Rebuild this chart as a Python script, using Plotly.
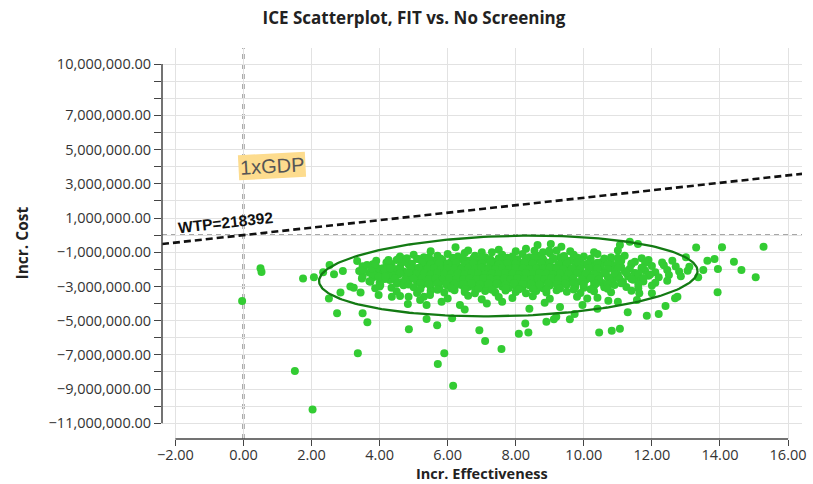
import numpy as np
import plotly.graph_objects as go

# ---------------- data (effectiveness, cost in millions) ----------------
cloud_eff = [
    5.5, 6.6, 7.0, 7.5, 8.0, 8.3, 8.8, 9.2, 9.6, 10.3, 11.0,
    4.6, 5.0, 5.3, 5.7, 6.0, 6.3, 6.5, 6.8, 7.1, 7.3, 7.6, 7.9, 8.2, 8.4, 8.7, 9.0, 9.3, 9.7, 10.0, 10.4, 10.8, 11.2, 11.7,
    3.9, 4.2, 4.5, 4.8, 5.1, 5.35, 5.6, 5.85, 6.1, 6.35, 6.6, 6.85, 7.1, 7.35, 7.6, 7.85, 8.1, 8.35, 8.6, 8.85, 9.1, 9.35, 9.6, 9.9, 10.2, 10.5, 10.8, 11.1, 11.5, 11.9, 12.3, 12.6,
    3.5, 3.8, 4.1, 4.35, 4.6, 4.85, 5.1, 5.3, 5.5, 5.7, 5.9, 6.1, 6.3, 6.5, 6.7, 6.9, 7.1, 7.3, 7.5, 7.7,
    7.9, 8.1, 8.3, 8.5, 8.7, 8.9, 9.1, 9.3, 9.5, 9.75, 10.0, 10.25, 10.5, 10.8, 11.1, 11.4, 11.7, 12.0, 12.35, 12.7,
    3.4, 3.7, 3.95, 4.2, 4.45, 4.7, 4.95, 5.2, 5.4, 5.6, 5.8, 6.0, 6.2, 6.4, 6.6, 6.8, 7.0, 7.2, 7.4, 7.6,
    7.8, 8.0, 8.2, 8.4, 8.6, 8.8, 9.0, 9.2, 9.4, 9.6, 9.85, 10.1, 10.35, 10.6, 10.9, 11.2, 11.5, 11.8, 12.1, 12.45, 12.8, 13.05,
    3.5, 3.8, 4.05, 4.3, 4.55, 4.8, 5.05, 5.3, 5.5, 5.7, 5.9, 6.1, 6.3, 6.5, 6.7, 6.9, 7.1, 7.3, 7.5, 7.7,
    7.9, 8.1, 8.3, 8.5, 8.7, 8.9, 9.1, 9.3, 9.5, 9.7, 9.95, 10.2, 10.45, 10.7, 11.0, 11.3, 11.6, 11.9, 12.2, 12.5, 12.85,
    3.7, 4.0, 4.3, 4.6, 4.85, 5.1, 5.35, 5.55, 5.75, 5.95, 6.15, 6.35, 6.55, 6.75, 6.95, 7.15, 7.35, 7.55, 7.75, 7.95,
    8.15, 8.35, 8.55, 8.75, 8.95, 9.15, 9.35, 9.55, 9.8, 10.05, 10.3, 10.55, 10.85, 11.15, 11.45, 11.75, 12.1, 12.45,
    4.0, 4.35, 4.7, 5.0, 5.25, 5.5, 5.75, 6.0, 6.2, 6.4, 6.6, 6.8, 7.0, 7.2, 7.4, 7.6, 7.8, 8.0, 8.2, 8.4,
    8.6, 8.8, 9.0, 9.25, 9.5, 9.75, 10.0, 10.3, 10.6, 10.9, 11.25, 11.6, 12.0,
    4.5, 5.1, 5.5, 5.9, 6.2, 6.5, 6.8, 7.1, 7.4, 7.7, 8.0, 8.3, 8.6, 8.9, 9.2, 9.5, 9.9, 10.3, 10.8, 11.4,
    5.3, 6.0, 6.6, 7.0, 7.5, 7.9, 8.5, 9.0, 9.8, 10.4,
]
cloud_cost = [
    -0.95, -0.9, -1.0, -0.85, -0.95, -0.8, -1.0, -0.9, -0.95, -1.0, -0.9,
    -1.25, -1.15, -1.3, -1.2, -1.1, -1.25, -1.05, -1.2, -1.3, -1.0, -1.15, -1.25, -1.1, -1.3, -1.2, -1.05, -1.3, -1.15, -1.25, -1.1, -1.3, -1.2, -1.35,
    -1.5, -1.6, -1.45, -1.55, -1.4, -1.6, -1.5, -1.45, -1.55, -1.4, -1.5, -1.6, -1.45, -1.55, -1.5, -1.4, -1.6, -1.5, -1.45, -1.55, -1.4, -1.6, -1.5, -1.45, -1.55, -1.6, -1.4, -1.5, -1.55, -1.45, -1.6, -1.5,
    -1.82, -1.7, -1.93, -1.76, -1.88, -1.72, -1.95, -1.8, -1.74, -1.86, -1.7, -1.9, -1.83, -1.77, -1.87, -1.69, -1.92, -1.81, -1.75, -1.84,
    -1.71, -1.89, -1.8, -1.78, -1.86, -1.7, -1.91, -1.82, -1.76, -1.85, -1.73, -1.9, -1.79, -1.74, -1.88, -1.7, -1.93, -1.8, -1.76, -1.84,
    -2.1, -2.2, -2.05, -2.15, -2.0, -2.12, -2.22, -2.08, -2.18, -2.03, -2.13, -2.2, -2.06, -2.16, -2.01, -2.11, -2.21, -2.07, -2.17, -2.04,
    -2.14, -2.19, -2.05, -2.15, -2.02, -2.12, -2.22, -2.08, -2.18, -2.03, -2.13, -2.2, -2.06, -2.16, -2.01, -2.11, -2.21, -2.07, -2.17, -2.04, -2.12, -2.08,
    -2.4, -2.48, -2.33, -2.45, -2.3, -2.42, -2.5, -2.36, -2.46, -2.32, -2.43, -2.5, -2.35, -2.45, -2.31, -2.41, -2.49, -2.37, -2.47, -2.33,
    -2.44, -2.5, -2.34, -2.46, -2.3, -2.42, -2.48, -2.36, -2.45, -2.32, -2.43, -2.5, -2.35, -2.44, -2.31, -2.41, -2.49, -2.37, -2.46, -2.33, -2.4,
    -2.7, -2.78, -2.63, -2.75, -2.6, -2.72, -2.8, -2.66, -2.76, -2.62, -2.73, -2.8, -2.65, -2.75, -2.61, -2.71, -2.79, -2.67, -2.77, -2.63,
    -2.74, -2.8, -2.64, -2.76, -2.6, -2.72, -2.78, -2.66, -2.75, -2.62, -2.73, -2.8, -2.65, -2.74, -2.61, -2.71, -2.79, -2.67,
    -3.0, -3.08, -2.93, -3.05, -2.9, -3.02, -3.1, -2.96, -3.06, -2.92, -3.03, -3.1, -2.95, -3.05, -2.91, -3.01, -3.09, -2.97, -3.07, -2.93,
    -3.04, -3.1, -2.94, -3.06, -2.9, -3.02, -3.08, -2.96, -3.05, -2.92, -3.03, -3.1, -2.95,
    -3.3, -3.38, -3.25, -3.35, -3.22, -3.32, -3.4, -3.27, -3.36, -3.24, -3.33, -3.4, -3.26, -3.35, -3.23, -3.31, -3.39, -3.28, -3.34, -3.25,
    -3.6, -3.7, -3.55, -3.75, -3.62, -3.68, -3.58, -3.72, -3.6, -3.66,
]

# denser core of the cloud (in-between rows)
core_eff = [
    4.8, 5.15, 5.45, 5.8, 6.15, 6.45, 6.75, 7.0, 7.25, 7.5, 7.75, 8.05, 8.3, 8.55, 8.8, 9.1, 9.45, 9.8, 10.2, 10.6, 11.0,
    4.3, 4.65, 4.95, 5.25, 5.5, 5.75, 6.0, 6.25, 6.5, 6.75, 7.0, 7.25, 7.5, 7.75, 8.0, 8.25, 8.5, 8.75, 9.0, 9.25, 9.5, 9.8, 10.1, 10.4, 10.7, 11.0, 11.4, 11.8,
    4.0, 4.3, 4.6, 4.9, 5.15, 5.4, 5.6, 5.8, 6.0, 6.2, 6.4, 6.6, 6.8, 7.0, 7.2, 7.4, 7.6, 7.8, 8.0, 8.2, 8.4, 8.6, 8.8, 9.0, 9.2, 9.4, 9.65, 9.9, 10.15, 10.4, 10.7, 11.0, 11.35, 11.7,
    3.8, 4.1, 4.35, 4.6, 4.85, 5.1, 5.3, 5.5, 5.7, 5.9, 6.1, 6.3, 6.5, 6.7, 6.9, 7.1, 7.3, 7.5, 7.7, 7.9, 8.1, 8.3, 8.5, 8.7, 8.9, 9.1, 9.3, 9.55, 9.8, 10.05, 10.3, 10.6, 10.9, 11.25, 11.6, 11.95,
    4.15, 4.45, 4.75, 5.0, 5.25, 5.45, 5.65, 5.85, 6.05, 6.25, 6.45, 6.65, 6.85, 7.05, 7.25, 7.45, 7.65, 7.85, 8.05, 8.25, 8.45, 8.65, 8.85, 9.05, 9.25, 9.45, 9.7, 9.95, 10.2, 10.45, 10.75, 11.05, 11.4, 11.75,
    4.5, 4.85, 5.2, 5.45, 5.7, 5.95, 6.2, 6.45, 6.7, 6.95, 7.2, 7.45, 7.7, 7.95, 8.2, 8.45, 8.7, 8.95, 9.2, 9.45, 9.7, 10.0, 10.35, 10.7, 11.1, 11.6,
    5.2, 5.7, 6.1, 6.5, 6.9, 7.3, 7.7, 8.1, 8.5, 8.9, 9.3, 9.7, 10.2, 10.7,
]
core_cost = [
    -1.35, -1.4, -1.3, -1.38, -1.33, -1.42, -1.36, -1.3, -1.4, -1.35, -1.32, -1.41, -1.37, -1.3, -1.39, -1.34, -1.42, -1.31, -1.38, -1.36, -1.33,
    -1.65, -1.62, -1.68, -1.6, -1.7, -1.63, -1.67, -1.61, -1.69, -1.64, -1.66, -1.6, -1.7, -1.63, -1.67, -1.62, -1.68, -1.64, -1.6, -1.69, -1.65, -1.62, -1.68, -1.61, -1.7, -1.64, -1.66, -1.63,
    -1.97, -1.93, -2.0, -1.95, -1.91, -1.98, -1.94, -2.0, -1.92, -1.96, -1.99, -1.93, -1.97, -1.91, -1.95, -2.0, -1.94, -1.98, -1.92, -1.96, -1.99, -1.93, -1.97, -1.91, -1.95, -2.0, -1.94, -1.98, -1.92, -1.96, -1.99, -1.93, -1.97, -1.91,
    -2.27, -2.23, -2.3, -2.25, -2.21, -2.28, -2.24, -2.3, -2.22, -2.26, -2.29, -2.23, -2.27, -2.21, -2.25, -2.3, -2.24, -2.28, -2.22, -2.26, -2.29, -2.23, -2.27, -2.21, -2.25, -2.3, -2.24, -2.28, -2.22, -2.26, -2.29, -2.23, -2.27, -2.21, -2.25, -2.3,
    -2.57, -2.53, -2.6, -2.55, -2.51, -2.58, -2.54, -2.6, -2.52, -2.56, -2.59, -2.53, -2.57, -2.51, -2.55, -2.6, -2.54, -2.58, -2.52, -2.56, -2.59, -2.53, -2.57, -2.51, -2.55, -2.6, -2.54, -2.58, -2.52, -2.56, -2.59, -2.53, -2.57, -2.51,
    -2.85, -2.88, -2.82, -2.87, -2.83, -2.89, -2.84, -2.86, -2.81, -2.88, -2.85, -2.83, -2.89, -2.82, -2.86, -2.84, -2.88, -2.81, -2.87, -2.85, -2.83, -2.89, -2.84, -2.86, -2.82, -2.88,
    -3.15, -3.2, -3.12, -3.18, -3.14, -3.2, -3.13, -3.17, -3.15, -3.19, -3.12, -3.18, -3.16, -3.14,
]

fringe_eff = [
    -0.04, 0.50, 0.53, 1.75, 2.07, 2.34, 2.53, 2.66, 2.92, 2.51,
    2.85, 3.14, 3.24, 3.44, 3.34, 3.48, 3.53, 3.63, 3.78, 3.87,
    3.97, 3.73, 3.87, 3.97, 4.02, 4.26, 4.55, 4.15, 4.31, 4.17,
    4.36, 4.60, 4.85, 4.83, 5.38, 5.82, 5.48, 2.75, 3.50, 3.64,
    4.86, 5.38, 5.69, 5.90, 5.71, 6.16, 6.13, 6.93, 7.10, 1.51,
    2.03, 3.36, 7.58, 8.09, 8.37, 8.28, 8.90, 9.12, 9.19, 9.59,
    9.73, 9.96, 10.45, 10.82, 11.06, 11.29, 11.85, 12.20, 12.40, 12.68,
    12.75, 11.63, 10.72, 11.56, 13.30, 14.06, 15.28, 13.63, 13.84, 14.41,
    13.94, 14.63, 13.51, 13.36, 15.05, 13.93, 13.10, 13.00, 11.06, 11.35,
    11.59, 6.23, 8.64, 9.03, 9.34, 8.98, 8.55, 9.42, 6.36, 6.50,
    7.15, 7.60, 8.40, 8.85, 9.30, 10.10, 10.40, 11.00, 5.19, 12.00,
]
fringe_cost = [
    -3.85, -1.93, -2.16, -2.53, -2.47, -2.17, -1.75, -2.29, -2.10, -3.70,
    -3.36, -3.00, -3.07, -3.35, -1.51, -2.53, -2.04, -1.75, -1.94, -1.71,
    -2.43, -2.72, -3.11, -3.50, -2.92, -1.46, -1.40, -2.04, -1.94, -2.43,
    -3.60, -3.56, -3.60, -4.03, -4.09, -3.89, -3.50, -4.57, -4.57, -5.10,
    -5.50, -4.90, -5.27, -6.90, -7.53, -8.80, -4.86, -5.56, -6.19, -7.95,
    -10.20, -6.90, -6.66, -5.76, -5.70, -5.16, -5.06, -4.92, -4.77, -4.92,
    -4.61, -4.09, -5.70, -5.59, -5.47, -4.51, -4.71, -4.61, -4.14, -3.69,
    -3.60, -3.40, -3.83, -3.79, -0.73, -0.71, -0.68, -1.50, -1.40, -1.55,
    -1.98, -2.04, -2.04, -2.47, -2.47, -3.34, -1.85, -1.30, -0.58, -0.39,
    -0.52, -0.71, -0.58, -0.52, -0.68, -0.91, -0.91, -1.22, -4.09, -4.35,
    -4.00, -3.90, -4.30, -3.95, -4.20, -3.70, -4.30, -3.90, -3.79, -3.40,
]

wtp = 218392
gdp_label = "1xGDP"

# axis configuration
x_tick_values = [-2, 0, 2, 4, 6, 8, 10, 12, 14, 16]
y_label_values = [-11e6, -9e6, -7e6, -5e6, -3e6, -1e6, 1e6, 3e6, 5e6, 7e6, 10e6]
y_min_tick, y_max_tick, y_step = -11e6, 10e6, 1e6
x_range = [-2.394, 16.41]
y_range = [-11.92e6, 10.94e6]

# confidence ellipse parameters
ell_cx, ell_cy = 7.78, -2.39e6
ell_a, ell_b = 5.56, 2.34e6
ell_shear = 0.0526e6

# ---------------- figure ----------------
eff = cloud_eff + core_eff + fringe_eff
cost = [c * 1e6 for c in cloud_cost + core_cost + fringe_cost]

fig = go.Figure()
fig.add_trace(go.Scatter(
    x=eff, y=cost, mode="markers",
    marker=dict(color="#33cc33", size=8, line=dict(width=0)),
    hoverinfo="skip",
))

t = np.linspace(0, 2 * np.pi, 241)
ex = ell_cx + ell_a * np.cos(t)
ey = ell_cy + ell_shear * (ell_a * np.cos(t)) + ell_b * np.sin(t)
fig.add_trace(go.Scatter(x=ex, y=ey, mode="lines",
                         line=dict(color="#137a13", width=2.3), hoverinfo="skip"))

wx = np.array(x_range)
fig.add_trace(go.Scatter(x=wx, y=wtp * wx, mode="lines",
                         line=dict(color="#111111", width=2.6, dash="7px,4px"),
                         hoverinfo="skip"))

y_grid_vals = list(np.arange(y_min_tick, y_max_tick + y_step / 2, y_step))
y_text = []
for v in y_grid_vals:
    if any(abs(v - lv) < 1 for lv in y_label_values):
        y_text.append(f"{v:,.2f}".replace("-", "\u2212"))
    else:
        y_text.append("")

font_family = "Open Sans"
grid_col = "#e2e2e2"
axis_col = "#444444"

fig.update_layout(
    width=813, height=484,
    margin=dict(l=162, r=7, t=48, b=45),
    paper_bgcolor="white", plot_bgcolor="white",
    showlegend=False,
    font=dict(family=font_family, color="#333333", size=14.5),
    title=dict(text="<b>ICE Scatterplot, FIT vs. No Screening</b>",
               x=414 / 813, xanchor="center", xref="container",
               y=1 - 18 / 484, yanchor="middle", yref="container",
               font=dict(size=17, color="#222222", family=font_family)),
    xaxis=dict(range=x_range, tickmode="array", tickvals=x_tick_values,
               tickformat=".2f", ticks="outside", ticklen=6, tickwidth=1.3,
               ticklabelstandoff=-3,
               tickcolor=axis_col, showgrid=True, gridcolor=grid_col, gridwidth=1,
               zeroline=False, showline=False, fixedrange=True,
               tickfont=dict(size=14.5, color="#333333")),
    yaxis=dict(range=y_range, tickmode="array", tickvals=y_grid_vals, ticktext=y_text,
               ticks="outside", ticklen=7, tickwidth=1.3, tickcolor=axis_col,
               showgrid=True, gridcolor=grid_col, gridwidth=1,
               zeroline=False, showline=False, fixedrange=True,
               tickfont=dict(size=14.5, color="#333333")),
)

shapes = [
    dict(type="line", xref="x", yref="paper", x0=x_tick_values[0], x1=x_tick_values[-1],
         y0=0, y1=0, line=dict(color=axis_col, width=1.5)),
    dict(type="line", xref="paper", yref="y", x0=0, x1=0, y0=y_min_tick, y1=y_max_tick,
         line=dict(color=axis_col, width=1.5)),
    dict(type="line", xref="x", yref="paper", x0=0, x1=0, y0=0, y1=1, layer="between",
         line=dict(color="#3a3a3a", width=1.8, dash="5px,5px")),
    dict(type="line", xref="paper", yref="y", x0=0, x1=1, y0=0, y1=0, layer="between",
         line=dict(color="#8a8a8a", width=1.7, dash="5px,4px")),
]
fig.update_layout(shapes=shapes)

fig.add_annotation(x=-0.53, y=0.71e6, xref="x", yref="y", text=f"<b>WTP={wtp}</b>",
                   showarrow=False, textangle=-6.3,
                   font=dict(family="Liberation Sans", size=15.5, color="#111111"))
fig.add_annotation(x=0.85, y=4.04e6, xref="x", yref="y", text=gdp_label,
                   showarrow=False, textangle=-3, bgcolor="#fddc8e", borderpad=1,
                   font=dict(family="Liberation Sans", size=20, color="#555555"))
fig.add_annotation(x=0.5, y=0, xref="paper", yref="paper", yshift=-46,
                   text="<b>Incr. Effectiveness</b>", showarrow=False,
                   xanchor="center", yanchor="bottom",
                   font=dict(family=font_family, size=14.5, color="#222222"))
fig.add_annotation(x=0, y=0.5, xref="paper", yref="paper", xshift=-141,
                   text="<b>Incr. Cost</b>", showarrow=False, textangle=-90,
                   xanchor="center", yanchor="middle",
                   font=dict(family=font_family, size=15.5, color="#222222"))

fig.write_html("out.html")
